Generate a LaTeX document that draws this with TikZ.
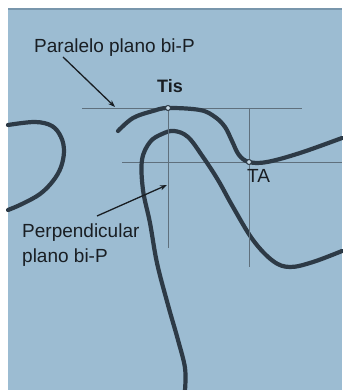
\documentclass[tikz,border=0pt]{standalone}
\usepackage{fontspec}
\setmainfont{Liberation Sans}
\usetikzlibrary{arrows.meta}
\definecolor{panel}{RGB}{156,188,210}
\definecolor{panedge}{RGB}{120,150,172}
\definecolor{ink}{RGB}{45,58,70}
\definecolor{guide}{RGB}{95,112,125}
\definecolor{txt}{RGB}{25,30,35}
\tikzset{
  contour/.style={ink, line width=4.2pt, line cap=round, line join=round},
  guideline/.style={guide, line width=0.8pt},
  pointer/.style={txt, line width=1.3pt, -{Stealth[length=7pt,width=5pt]}},
  label/.style={txt, font=\fontsize{19}{22}\selectfont, inner sep=0pt},
  mark point/.style={circle, draw=ink, fill=panel!60!white, line width=1pt, minimum size=5pt, inner sep=0pt}
}
\begin{document}
\begin{tikzpicture}[x=1pt, y=-1pt]
\useasboundingbox (0,0) rectangle (342,390);
\fill[white] (0,0) rectangle (342,390);
\fill[panel] (8,8) rectangle (342,390);
\draw[panedge, line width=2pt] (8,9) -- (342,9);

% reference lines of the two planes
\coordinate (h1w) at (82,108);
\coordinate (h1e) at (302,108);
\coordinate (h2w) at (122,162);
\coordinate (h2e) at (342,162);
\coordinate (v1s) at (168,248);
\coordinate (v2n) at (249,108);
\coordinate (v2s) at (249,267);
\draw[guideline] (h1w) -- (h1e);
\draw[guideline] (h2w) -- (h2e);

% contours
\draw[contour] plot[smooth, tension=0.6] coordinates {(8,125) (35,122) (52,126) (61,137) (64,151) (61,167) (53,181) (40,194) (22,204) (8,210)};
\draw[contour] plot[smooth, tension=0.6] coordinates {(118,131) (133,118) (153,111) (168,108) (200,110) (215,117) (225,127) (232,141) (239,155) (249,162) (267,162) (300,153) (342,138)};
\draw[contour] plot[smooth, tension=0.6] coordinates {(185,390) (185,368) (178,340) (168,305) (157,263) (150,223) (143,190) (142,160) (150,142) (162,134) (174,131) (188,137) (203,157) (218,180) (233,207) (253,240) (273,261) (290,267) (313,262) (342,251)};

% landmark points
\node[mark point] (tis) at (168,108) {};
\node[mark point] (ta) at (249,162) {};
\draw[guideline] (tis) -- (v1s);
\draw[guideline] (v2n) -- (ta) -- (v2s);

% labels
\node[label, anchor=base west] (par) at (34,53) {Paralelo plano bi-P};
\node[label, anchor=base, font=\bfseries\fontsize{18}{22}\selectfont] (tislbl) at (170,93) {Tis};
\node[label, anchor=base west] (talbl) at (247,182) {TA};
\node[label, anchor=base west, align=left] (perp) at (22,237) {Perpendicular};
\node[label, anchor=base west] (perp2) at (22,262) {plano bi-P};

% pointers
\coordinate (pa) at (63,57);
\coordinate (pb) at (115,107);
\coordinate (qa) at (97,216);
\coordinate (qb) at (167,185);
\draw[pointer] (pa) -- (pb);
\draw[pointer] (qa) -- (qb);
\end{tikzpicture}
\end{document}
